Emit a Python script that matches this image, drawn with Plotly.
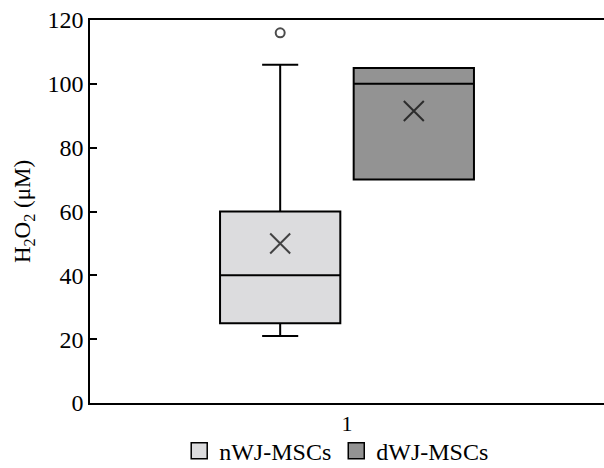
import plotly.graph_objects as go

category = ["1"]
groups = ["nWJ-MSCs", "dWJ-MSCs"]
q1 = [25, 70]
median = [40, 100]
q3 = [60, 105]
lower = [21, 70]
upper = [106, 105]
means = [50, 91.5]
outliers = [[116], []]
fills = ["#dcdcde", "#939393"]
y_ticks = [0, 20, 40, 60, 80, 100, 120]

FONT = "Liberation Serif"
fig = go.Figure()

for i, g in enumerate(groups):
    fig.add_trace(go.Box(
        x=category, q1=[q1[i]], median=[median[i]], q3=[q3[i]],
        lowerfence=[lower[i]], upperfence=[upper[i]],
        name=g, offsetgroup=g, fillcolor=fills[i],
        line=dict(color="black", width=2), whiskerwidth=0.3,
        boxpoints=False, showlegend=False,
    ))

for i, g in enumerate(groups):
    ys = [means[i]] + outliers[i]
    syms = ["x-thin-open"] + ["circle-open"] * len(outliers[i])
    sizes = [20] + [9] * len(outliers[i])
    fig.add_trace(go.Scatter(
        x=category * len(ys), y=ys, mode="markers", offsetgroup=g,
        marker=dict(symbol=syms, size=sizes, color="black",
                    line=dict(color="black", width=2)),
        showlegend=False, hoverinfo="y",
    ))

for i, g in enumerate(groups):
    fig.add_trace(go.Scatter(
        x=[None], y=[None], mode="markers", name=g, offsetgroup=g,
        marker=dict(symbol="square", size=16, color=fills[i],
                    line=dict(color="black", width=1.5)),
    ))

fig.update_layout(
    width=604, height=468,
    margin=dict(l=90, r=0, t=20, b=65),
    paper_bgcolor="white", plot_bgcolor="white",
    boxmode="group", boxgap=0.48, boxgroupgap=0.1,
    scattermode="group", scattergap=0.48,
    font=dict(family=FONT, size=24, color="black"),
    showlegend=True,
    legend=dict(orientation="h", x=0.48, xanchor="center", yref="container",
                y=0.036, yanchor="middle", font=dict(size=24), itemsizing="trace",
                itemwidth=30, bgcolor="rgba(0,0,0,0)"),
    xaxis=dict(type="category", showline=True, linecolor="black", linewidth=1.5,
               mirror=True, ticks="", showgrid=False, zeroline=False,
               tickfont=dict(size=22), automargin=False),
    yaxis=dict(range=[0, 120], tickvals=y_ticks, showline=True, linecolor="black",
               linewidth=1.5, ticks="inside", ticklen=7, tickwidth=1.5,
               tickcolor="black", showgrid=False, zeroline=False,
               tickfont=dict(size=24), automargin=False,
               title=dict(text="H<sub>2</sub>O<sub>2</sub> (μM)", font=dict(size=23),
                          standoff=10)),
)

fig.write_html("out.html")
